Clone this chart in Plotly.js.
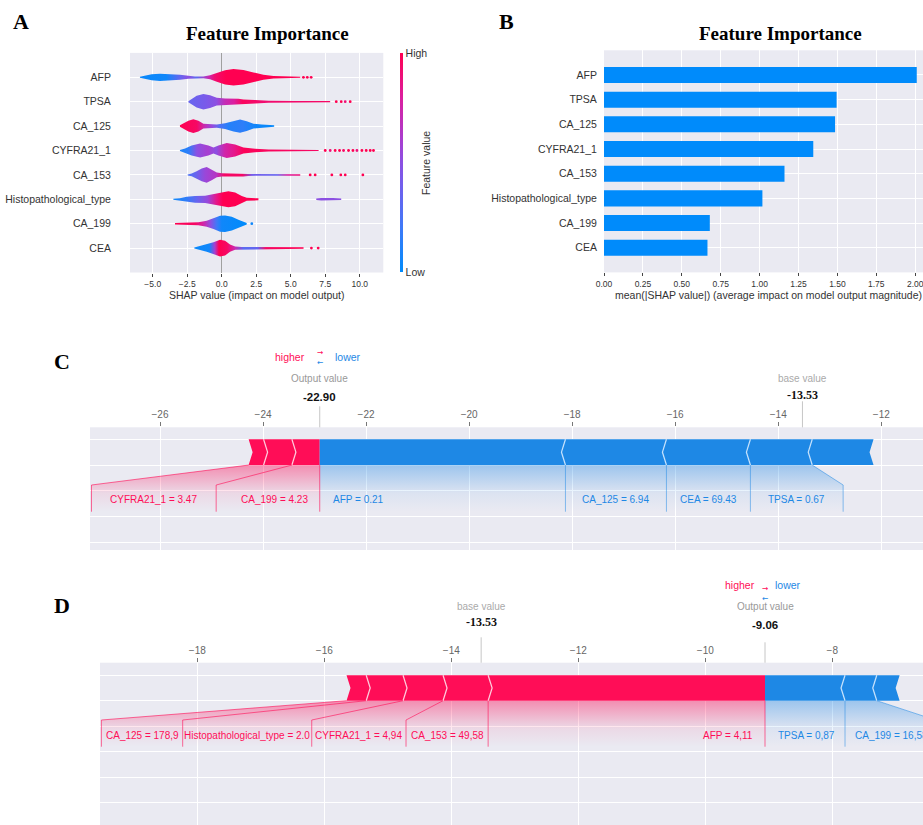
<!DOCTYPE html>
<html><head><meta charset="utf-8">
<script src="https://cdn.plot.ly/plotly-3.0.1.min.js"></script>
<style>html,body{margin:0;padding:0;background:#fff}#chart{width:923px;height:825px}</style>
</head><body><div id="chart"></div>
<script>
// ================= DATA =================
const features = ["AFP","TPSA","CA_125","CYFRA21_1","CA_153","Histopathological_type","CA_199","CEA"];
const meanAbsShap = [2.01, 1.495, 1.485, 1.345, 1.16, 1.018, 0.68, 0.665];

// Violin outlines (panel A): SHAP value positions, half-widths (row units), colour stops (0=low, 1=high)
const afpX  = [-5.93,-5.57,-5.08,-4.48,-3.75,-3.02,-2.42,-1.94,-1.33,-0.85,-0.36,0.24,0.85,1.57,2.3,3.02,3.75,4.72,5.69];
const afpW  = [0.02,0.06,0.12,0.15,0.14,0.10,0.06,0.035,0.035,0.08,0.18,0.29,0.34,0.30,0.20,0.10,0.05,0.03,0.02];
const afpCx = [-5.93,-4.0,-3.0,-2.4,-1.8,-1.0,-0.5,0.3,5.69];
const afpCv = [0.03,0.05,0.35,0.5,0.3,0.7,0.92,1,1];

const tpsaX  = [-2.42,-2.18,-1.82,-1.33,-0.85,-0.36,0.24,1.21,1.57,2.42,3.39,5.32,7.86];
const tpsaW  = [0.02,0.12,0.24,0.32,0.26,0.16,0.13,0.12,0.09,0.07,0.04,0.03,0.025];
const tpsaCx = [-2.42,-1.2,-0.4,0.2,0.9,1.5,3.0,7.86];
const tpsaCv = [0.35,0.42,0.5,0.7,0.8,0.97,0.92,0.95];

const ca125X  = [-3.03,-2.78,-2.42,-2.06,-1.69,-1.33,-0.85,-0.36,0.24,0.85,1.33,1.81,2.3,2.9,3.8];
const ca125W  = [0.03,0.12,0.22,0.28,0.22,0.10,0.08,0.07,0.12,0.22,0.27,0.20,0.10,0.07,0.03];
const ca125Cx = [-3.03,-1.8,-1.2,-0.6,-0.1,0.5,1.5,2.5,3.8];
const ca125Cv = [1,0.95,0.7,0.5,0.25,0.12,0.15,0.05,0.02];

const cyfraX  = [-3.03,-2.66,-2.18,-1.57,-0.97,-0.6,-0.24,0.36,0.97,1.57,2.42,3.39,5.32,7.02];
const cyfraW  = [0.02,0.08,0.20,0.29,0.20,0.12,0.20,0.31,0.25,0.12,0.07,0.04,0.03,0.025];
const cyfraCx = [-3.03,-2.4,-1.8,-1.0,-0.4,0.2,0.9,1.6,7.02];
const cyfraCv = [0.08,0.15,0.5,0.6,0.5,0.75,0.85,0.98,0.95];

const ca153X  = [-2.47,-2.18,-1.82,-1.45,-1.09,-0.73,-0.36,0.0,1.57,1.93,5.69];
const ca153W  = [0.02,0.06,0.15,0.26,0.32,0.22,0.10,0.07,0.07,0.04,0.03];
const ca153Cx = [-2.47,-1.9,-1.2,-0.4,0.2,1.5,2.2,4.0,4.8,5.69];
const ca153Cv = [0.25,0.35,0.55,0.65,0.95,0.95,0.4,0.35,0.8,0.9];

const histoX  = [-3.51,-3.03,-2.54,-1.94,-1.21,-0.6,0.0,0.48,0.97,1.45,1.81,2.66];
const histoW  = [0.02,0.04,0.10,0.14,0.15,0.20,0.28,0.33,0.28,0.14,0.06,0.04];
const histoCx = [-3.51,-2.6,-1.8,-1.0,-0.4,0.1,2.66];
const histoCv = [0.05,0.15,0.35,0.55,0.85,1,1];
const histo2X  = [6.85,7.21,8.06,8.66];
const histo2W  = [0.03,0.05,0.05,0.03];
const histo2Cx = [6.85,8.66];
const histo2Cv = [0.5,0.5];

const ca199X  = [-3.39,-2.66,-1.69,-1.09,-0.6,-0.12,0.24,0.73,1.21,1.57,1.81];
const ca199W  = [0.03,0.05,0.06,0.12,0.22,0.33,0.34,0.28,0.16,0.08,0.03];
const ca199Cx = [-3.39,-1.9,-1.3,-0.8,-0.35,0.0,1.81];
const ca199Cv = [1,0.95,0.75,0.5,0.2,0.05,0.0];

const ceaX  = [-1.99,-1.57,-1.09,-0.6,-0.12,0.24,0.6,0.97,1.45,2.9,5.93];
const ceaW  = [0.02,0.08,0.15,0.24,0.34,0.30,0.15,0.07,0.05,0.04,0.03];
const ceaCx = [-1.99,-0.9,-0.5,-0.2,0.4,0.9,1.6,2.6,3.2,5.93];
const ceaCv = [0.03,0.05,0.6,1,0.95,0.75,0.3,0.35,0.95,1];

// isolated points in the violin tails
const dotFeature = ["AFP","AFP","AFP","TPSA","TPSA","TPSA","TPSA",
  "CYFRA21_1","CYFRA21_1","CYFRA21_1","CYFRA21_1","CYFRA21_1","CYFRA21_1","CYFRA21_1","CYFRA21_1","CYFRA21_1","CYFRA21_1","CYFRA21_1","CYFRA21_1",
  "CA_153","CA_153","CA_153","CA_153","CA_153","CA_153","CA_199","CEA","CEA"];
const dotX = [5.92,6.2,6.48,8.3,8.66,8.95,9.31,
  7.5,7.86,8.22,8.54,8.83,9.19,9.51,9.8,10.16,10.47,10.76,11.0,
  6.41,6.77,7.98,8.63,8.95,10.23,2.18,6.5,6.99];
const dotV = [1,1,1,1,1,0.9,1,
  1,0.9,1,1,0.95,1,1,0.9,1,1,1,1,
  1,1,1,1,1,1,0.05,1,1];

// Force plots (panels C and D)
const baseValue = -13.53;
const outC = -22.90;
const redNamesC  = ["CA_199 = 4.23", "", "CYFRA21_1 = 3.47"];
const redShapC   = [0.54, 0.55, 0.29];
const blueNamesC = ["AFP = 0.21", "CA_125 = 6.94", "CEA = 69.43", "TPSA = 0.67", ""];
const blueShapC  = [4.77, 1.96, 1.63, 1.20, 1.19];

const outD = -9.06;
const redNamesD  = ["AFP = 4,11", "CA_153 = 49,58", "CYFRA21_1 = 4,94", "Histopathological_type = 2.0", "CA_125 = 178,9"];
const redShapD   = [4.36, 0.71, 0.63, 0.58, 0.31];
const blueNamesD = ["TPSA = 0,87", "CA_199 = 16,58", ""];
const blueShapD  = [1.26, 0.50, 0.36];

// ================= LAYOUT HELPERS =================
const W = 923, H = 825;
const px = v => v / W;
const py = v => 1 - v / H;
const SANS = 'Liberation Sans, Arial, Helvetica, sans-serif';
const SERIF = 'Liberation Serif, Times New Roman, serif';
const PINK = 'rgb(255,13,87)', BLUE = 'rgb(30,136,229)';

const shapScale = [[0,'rgb(0,139,251)'],[0.2,'rgb(62,122,248)'],[0.4,'rgb(116,94,236)'],[0.5,'rgb(140,80,226)'],[0.6,'rgb(168,62,208)'],[0.8,'rgb(220,30,158)'],[1,'rgb(255,0,81)']];
function rgbArr(s){ return s.match(/[\d.]+/g).map(Number); }
function cmap(v){
  v = Math.max(0, Math.min(1, v));
  for (let i = 1; i < shapScale.length; i++) {
    const p1 = shapScale[i-1][0], p2 = shapScale[i][0];
    if (v <= p2) {
      const t = (v - p1) / (p2 - p1), a = rgbArr(shapScale[i-1][1]), b = rgbArr(shapScale[i][1]);
      return 'rgb(' + [0,1,2].map(k => Math.round(a[k] + (b[k]-a[k])*t)).join(',') + ')';
    }
  }
  return shapScale[shapScale.length-1][1];
}

const rowOf = f => features.length - 1 - features.indexOf(f);
const rows = features.map(f => rowOf(f));

const traces = [];
const ann = [];
const shapes = [];

// ---------- Panel A: violins ----------
function violin(xs, ws, row, cx, cv) {
  const X = xs.concat(xs.slice().reverse(), [xs[0]]);
  const Y = xs.map((x,i) => row + ws[i]).concat(xs.map((x,i) => row - ws[i]).reverse(), [row + ws[0]]);
  const x0 = xs[0], x1 = xs[xs.length-1];
  const cs = cx.map((x,i) => [Math.max(0, Math.min(1, (x - x0) / (x1 - x0))), cmap(cv[i])]);
  cs[0][0] = 0; cs[cs.length-1][0] = 1;
  const mean = cv.reduce((s,v)=>s+v,0)/cv.length;
  traces.push({type:'scatter', x:X, y:Y, xaxis:'x', yaxis:'y', mode:'lines', line:{width:0, color:'rgba(0,0,0,0)'},
    fill:'toself', fillcolor:cmap(mean),
    fillgradient:{type:'horizontal', start:x0, stop:x1, colorscale:cs}, hoverinfo:'skip'});
}
violin(afpX, afpW, rowOf("AFP"), afpCx, afpCv);
violin(tpsaX, tpsaW, rowOf("TPSA"), tpsaCx, tpsaCv);
violin(ca125X, ca125W, rowOf("CA_125"), ca125Cx, ca125Cv);
violin(cyfraX, cyfraW, rowOf("CYFRA21_1"), cyfraCx, cyfraCv);
violin(ca153X, ca153W, rowOf("CA_153"), ca153Cx, ca153Cv);
violin(histoX, histoW, rowOf("Histopathological_type"), histoCx, histoCv);
violin(histo2X, histo2W, rowOf("Histopathological_type"), histo2Cx, histo2Cv);
violin(ca199X, ca199W, rowOf("CA_199"), ca199Cx, ca199Cv);
violin(ceaX, ceaW, rowOf("CEA"), ceaCx, ceaCv);

traces.push({type:'scatter', mode:'markers', x:dotX, y:dotFeature.map(rowOf), xaxis:'x', yaxis:'y', hoverinfo:'skip',
  marker:{size:2.8, color:dotV, colorscale:shapScale, cmin:0, cmax:1, showscale:true,
    colorbar:{x:px(400), xanchor:'left', xpad:0, ypad:0, y:py(53.3), yanchor:'top', len:(272.7-53.3)/H, lenmode:'fraction',
      thickness:3, thicknessmode:'pixels', outlinewidth:0, tickvals:[0.002,0.998], ticktext:['Low','High'], ticks:'',
      tickfont:{family:SANS, size:10.5, color:'#333'}}}});

// ---------- Panel B: bars ----------
traces.push({type:'bar', orientation:'h', x:meanAbsShap, y:rows, xaxis:'x2', yaxis:'y2', width:0.65,
  marker:{color:'rgb(0,139,251)', line:{width:0}}, hoverinfo:'skip'});

// ---------- Panels C / D: force plots ----------
function forcePlot(o) {
  const d = 4 / o.pxPerUnit, mid = (o.lo + o.hi) / 2;
  const sepR = {x:[], y:[]}, sepB = {x:[], y:[]}, linkR = {x:[], y:[]}, linkB = {x:[], y:[]};
  const labFont = c => ({family:SANS, size:10, color:c});
  // red segments (push higher): from output leftwards
  let cum = 0, lastLab = o.out, outerR = null, outerRLab = null;
  o.rShap.forEach((v, i) => {
    const b = o.out - cum; cum += v; const a = o.out - cum;
    const tip = i === 0 ? b : b + d;
    traces.push({type:'scatter', xaxis:o.xa, yaxis:o.ya, mode:'lines', line:{width:0, color:'rgba(0,0,0,0)'}, fill:'toself', fillcolor:PINK, hoverinfo:'skip',
      x:[a, b, tip, b, a, a + d, a], y:[o.hi, o.hi, mid, o.lo, o.lo, mid, o.hi]});
    if (i > 0) { sepR.x.push(b, b + d, b, null); sepR.y.push(o.hi, mid, o.lo, null); }
    if (o.rNames[i]) {
      const lab = o.rLab[i] != null ? o.rLab[i] : a;
      linkR.x.push(a, lab, lab, null); linkR.y.push(o.lo, o.labTop, o.labBot, null);
      if (i === 0) ann.push({xref:o.xa, yref:o.ya, x:o.out, y:o.labY, xanchor:'right', xshift:-10, text:o.rNames[i], showarrow:false, font:labFont(PINK)});
      else ann.push({xref:o.xa, yref:o.ya, x:(lastLab + lab)/2, y:o.labY, xanchor:'center', text:o.rNames[i], showarrow:false, font:labFont(PINK)});
      lastLab = lab; outerR = a; outerRLab = lab;
    }
  });
  linkR.x.push(o.out, o.out, null); linkR.y.push(o.lo, o.labBot, null);
  // blue segments (push lower): from output rightwards
  cum = 0; lastLab = o.out; let outerB = null, outerBLab = null;
  o.bShap.forEach((v, i) => {
    const a = o.out + cum; cum += v; const b = o.out + cum;
    const tip = i === 0 ? a : a - d;
    traces.push({type:'scatter', xaxis:o.xa, yaxis:o.ya, mode:'lines', line:{width:0, color:'rgba(0,0,0,0)'}, fill:'toself', fillcolor:BLUE, hoverinfo:'skip',
      x:[a, b, b - d, b, a, tip, a], y:[o.hi, o.hi, mid, o.lo, o.lo, mid, o.hi]});
    if (i > 0) { sepB.x.push(a, a - d, a, null); sepB.y.push(o.hi, mid, o.lo, null); }
    if (o.bNames[i]) {
      const lab = o.bLab[i] != null ? o.bLab[i] : b;
      linkB.x.push(b, lab, lab, null); linkB.y.push(o.lo, o.labTop, o.labBot, null);
      if (i === 0) ann.push({xref:o.xa, yref:o.ya, x:o.out, y:o.labY, xanchor:'left', xshift:11, text:o.bNames[i], showarrow:false, font:labFont(BLUE)});
      else if (o.bEdgeLeft && i === o.bEdgeLeft) ann.push({xref:o.xa, yref:o.ya, x:lastLab, y:o.labY, xanchor:'left', xshift:8, text:o.bNames[i], showarrow:false, font:labFont(BLUE)});
      else ann.push({xref:o.xa, yref:o.ya, x:(lastLab + lab)/2, y:o.labY, xanchor:'center', text:o.bNames[i], showarrow:false, font:labFont(BLUE)});
      lastLab = lab; outerB = b; outerBLab = lab;
    }
  });
  // gradient label backings
  traces.unshift({type:'scatter', xaxis:o.xa, yaxis:o.ya, mode:'lines', line:{width:0, color:'rgba(0,0,0,0)'}, fill:'toself', hoverinfo:'skip',
    fillcolor:'rgba(255,13,87,0.18)',
    fillgradient:{type:'vertical', start:o.labBot, stop:o.lo, colorscale:[[0,'rgba(255,13,87,0)'],[0.4,'rgba(255,13,87,0.08)'],[1,'rgba(255,13,87,0.42)']]},
    x:[o.out, outerR, outerRLab, outerRLab, o.out, o.out], y:[o.lo, o.lo, o.labTop, o.labBot, o.labBot, o.lo]});
  traces.unshift({type:'scatter', xaxis:o.xa, yaxis:o.ya, mode:'lines', line:{width:0, color:'rgba(0,0,0,0)'}, fill:'toself', hoverinfo:'skip',
    fillcolor:'rgba(30,136,229,0.15)',
    fillgradient:{type:'vertical', start:o.labBot, stop:o.lo, colorscale:[[0,'rgba(30,136,229,0)'],[0.4,'rgba(30,136,229,0.07)'],[1,'rgba(30,136,229,0.38)']]},
    x:[o.out, outerB, outerBLab, outerBLab, o.out, o.out], y:[o.lo, o.lo, o.labTop, o.labBot, o.labBot, o.lo]});
  traces.push({type:'scatter', xaxis:o.xa, yaxis:o.ya, mode:'lines', x:sepR.x, y:sepR.y, line:{color:'rgba(255,225,235,0.85)', width:1.3}, hoverinfo:'skip'});
  traces.push({type:'scatter', xaxis:o.xa, yaxis:o.ya, mode:'lines', x:sepB.x, y:sepB.y, line:{color:'rgba(215,235,255,0.85)', width:1.3}, hoverinfo:'skip'});
  traces.push({type:'scatter', xaxis:o.xa, yaxis:o.ya, mode:'lines', x:linkR.x, y:linkR.y, line:{color:'rgba(255,13,87,0.6)', width:1}, hoverinfo:'skip'});
  traces.push({type:'scatter', xaxis:o.xa, yaxis:o.ya, mode:'lines', x:linkB.x, y:linkB.y, line:{color:'rgba(30,136,229,0.5)', width:1}, hoverinfo:'skip'});

  // header texts
  ann.push({xref:o.xa, yref:'paper', x:o.out, y:py(o.hlY), xanchor:'right', xshift:-o.hlGap, text:'higher', showarrow:false, font:{family:SANS, size:10.5, color:PINK}});
  ann.push({xref:o.xa, yref:'paper', x:o.out, y:py(o.hlY), xanchor:'left', xshift:o.hlGap, text:'lower', showarrow:false, font:{family:SANS, size:10.5, color:BLUE}});
  ann.push({xref:o.xa, yref:'paper', x:o.out, y:py(o.hlY), xanchor:'center', yanchor:'middle', showarrow:false, borderpad:0,
    text:'<span style="color:' + PINK + '">→</span><br><span style="color:' + BLUE + '">←</span>',
    font:{family:'DejaVu Sans', size:7.5, color:BLUE}});
  ann.push({xref:o.xa, yref:'paper', x:o.out, y:py(o.ovY + 1), text:'Output value', showarrow:false, font:{family:SANS, size:10, color:'#999'}});
  ann.push({xref:o.xa, yref:'paper', x:o.out, y:py(o.ovY + 20), text:'<b>' + o.out.toFixed(2) + '</b>', showarrow:false, font:{family:SANS, size:11.5, color:'#111'}});
  ann.push({xref:o.xa, yref:'paper', x:baseValue, y:py(o.ovY + 1), text:'base value', showarrow:false, font:{family:SANS, size:10, color:'#aaa'}});
  ann.push({xref:o.xa, yref:'paper', x:baseValue, y:py(o.ovY + 18), text:'<b>' + baseValue.toFixed(2) + '</b>', showarrow:false, font:{family:SERIF, size:12, color:'#111'}});
  shapes.push({type:'line', xref:o.xa, yref:'paper', x0:o.out, x1:o.out, y0:py(o.ovY + 29), y1:py(o.top), line:{color:'rgba(160,160,160,0.6)', width:1}});
  shapes.push({type:'line', xref:o.xa, yref:'paper', x0:baseValue, x1:baseValue, y0:py(o.ovY + 24), y1:py(o.top), line:{color:'rgba(160,160,160,0.6)', width:1}});
}

const rangeC = [-27.359, -11.19], rangeD = [-19.532, -6.572];
forcePlot({xa:'x3', ya:'y3', out:outC, rShap:redShapC, rNames:redNamesC, rLab:[-24.91, null, -27.33],
  bShap:blueShapC, bNames:blueNamesC, bLab:[null, null, null, -12.74, null],
  lo:3, hi:4, labTop:2.225, labBot:1.188, labY:1.643, pxPerUnit:(W-90)/(rangeC[1]-rangeC[0]),
  hlY:357, hlGap:13, ovY:377.3, top:427.3});
forcePlot({xa:'x4', ya:'y4', out:outD, rShap:redShapD, rNames:redNamesD, rLab:[null, -14.713, -16.198, -18.23, -19.51],
  bShap:blueShapD, bNames:blueNamesD, bLab:[null, -6.38, null], bEdgeLeft:1,
  lo:4, hi:5, labTop:3.243, labBot:2.196, labY:2.616, pxPerUnit:(W-100)/(rangeD[1]-rangeD[0]),
  hlY:593, hlGap:8, ovY:613.3, top:662.7});

// ---------- text: letters, titles, axis titles ----------
const letter = (t, x, y) => ann.push({xref:'paper', yref:'paper', x:px(x), y:py(y), text:'<b>'+t+'</b>', showarrow:false, xanchor:'center', yanchor:'middle', font:{family:SERIF, size:22, color:'#000'}});
letter('A', 20.7, 21); letter('B', 506.7, 21); letter('C', 62, 362); letter('D', 62, 605);
const title = (x, y) => ann.push({xref:'paper', yref:'paper', x:px(x), y:py(y), text:'<b>Feature Importance</b>', showarrow:false, xanchor:'center', yanchor:'middle', font:{family:SERIF, size:19, color:'#000'}});
title(267.5, 33.5); title(780, 33.5);
ann.push({xref:'paper', yref:'paper', x:px(256.7), y:py(295.3), xanchor:'center', yanchor:'middle', text:'SHAP value (impact on model output)', showarrow:false, font:{family:SANS, size:10.5, color:'#333'}});
ann.push({xref:'paper', yref:'paper', x:px(768.5), y:py(295.3), xanchor:'center', yanchor:'middle', text:'mean(|SHAP value|) (average impact on model output magnitude)', showarrow:false, font:{family:SANS, size:10.5, color:'#333'}});
ann.push({xref:'paper', yref:'paper', x:px(426.7), y:py(163.3), text:'Feature value', textangle:-90, showarrow:false, xanchor:'center', yanchor:'middle', font:{family:SANS, size:10.5, color:'#333'}});

const gridAxis = {gridcolor:'#ffffff', gridwidth:1, showline:false, fixedrange:true};
const layout = {
  width:W, height:H, margin:{l:0, r:0, t:0, b:0}, paper_bgcolor:'#ffffff', plot_bgcolor:'#EAEAF2', showlegend:false,
  font:{family:SANS, color:'#333'},
  xaxis:Object.assign({}, gridAxis, {domain:[130/W, 383.3/W], anchor:'y', range:[-6.65, 11.71], dtick:2.5, tick0:0, tickformat:'.1f',
    ticks:'outside', ticklen:3, tickcolor:'#444', tickfont:{size:8.5, color:'#333'}, zeroline:true, zerolinecolor:'#a0a0a0', zerolinewidth:1}),
  yaxis:Object.assign({}, gridAxis, {domain:[py(272.5), py(52.9)], anchor:'x', range:[-1, 8], tickvals:rows, ticktext:features,
    ticks:'outside', ticklen:16, tickcolor:'rgba(0,0,0,0)', tickfont:{size:10.5, color:'#333'}, zeroline:false}),
  xaxis2:Object.assign({}, gridAxis, {domain:[604/W, 1], anchor:'y2', range:[0, (W-604)/155.6], dtick:0.25, tick0:0, tickformat:'.2f',
    ticks:'outside', ticklen:3, tickcolor:'#444', tickfont:{size:8.5, color:'#333'}, zeroline:false, ticklabeloverflow:'allow'}),
  yaxis2:Object.assign({}, gridAxis, {domain:[py(272.4), py(50.3)], anchor:'x2', range:[-1, 8], tickvals:rows, ticktext:features,
    ticks:'outside', ticklen:4, tickcolor:'rgba(0,0,0,0)', tickfont:{size:10.5, color:'#333'}, zeroline:false}),
  xaxis3:Object.assign({}, gridAxis, {domain:[90/W, 1], anchor:'y3', side:'top', range:rangeC, dtick:2, tick0:0,
    ticks:'outside', ticklen:4, tickcolor:'#777', tickfont:{size:10, color:'#666'}, zeroline:false}),
  yaxis3:Object.assign({}, gridAxis, {domain:[py(550), py(427.3)], anchor:'x3', range:[-0.299, 4.466], tickvals:[0,1,2,3,4], showticklabels:false, zeroline:false}),
  xaxis4:Object.assign({}, gridAxis, {domain:[100/W, 1], anchor:'y4', side:'top', range:rangeD, dtick:2, tick0:0,
    ticks:'outside', ticklen:4, tickcolor:'#777', tickfont:{size:10, color:'#666'}, zeroline:false}),
  yaxis4:Object.assign({}, gridAxis, {domain:[0, py(662.7)], anchor:'x4', range:[-0.875, 5.49], tickvals:[0,1,2,3,4,5], showticklabels:false, zeroline:false}),
  annotations:ann, shapes:shapes
};

Plotly.newPlot('chart', traces, layout, {staticPlot:true, displayModeBar:false});
</script></body></html>
